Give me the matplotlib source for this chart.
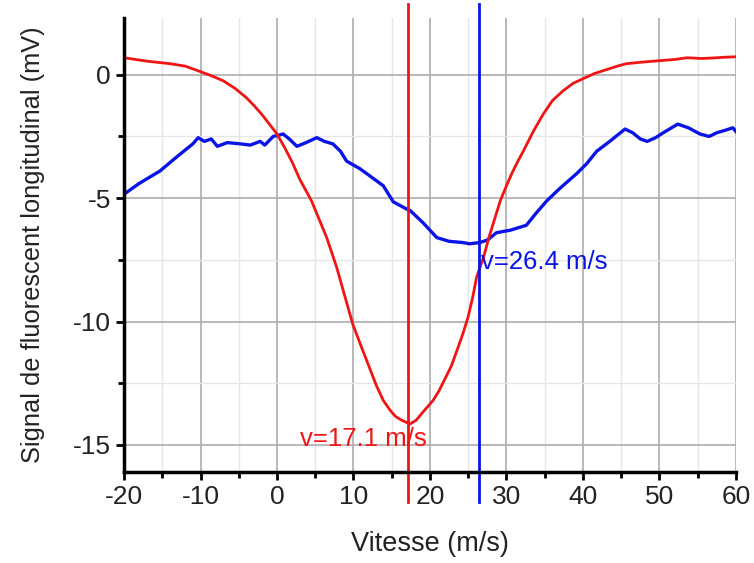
import matplotlib.pyplot as plt
from matplotlib.ticker import MultipleLocator

plt.rcParams['font.family'] = ['Liberation Sans', 'DejaVu Sans']
plt.rcParams['axes.unicode_minus'] = False

# Courbe rouge (signal longitudinal)
vitesse_rouge = [-20, -17, -14, -12, -10.3, -8.5, -7, -5.5, -4, -3, -2, -1, 0, 1, 2, 3,
                 4.5, 5.5, 6.5, 7.8, 8.8, 9.9, 11, 12, 13, 13.9, 14.8, 15.5, 16.3, 17,
                 17.4, 18.2, 19, 19.7, 20.4, 21.2, 22, 22.8, 23.5, 24.3, 25, 25.6,
                 26.1, 27, 27.7, 28.5, 29.2, 30, 30.7, 31.5, 32.2, 33.5, 34.8, 36,
                 37.4, 38.7, 40, 41.5, 43, 44.5, 45.7, 48, 50, 52, 53.6, 55.5, 57,
                 58.5, 60]
signal_rouge = [0.69, 0.55, 0.45, 0.35, 0.16, -0.05, -0.25, -0.55, -0.93, -1.25,
                -1.6, -2.0, -2.4, -2.95, -3.55, -4.25, -5.1, -5.85, -6.6, -7.8,
                -8.9, -10.1, -11.0, -11.8, -12.6, -13.2, -13.6, -13.85, -14.0,
                -14.1, -14.15, -14.0, -13.7, -13.45, -13.2, -12.8, -12.3, -11.8,
                -11.2, -10.5, -9.8, -9.0, -8.2, -7.4, -6.6, -5.8, -5.1, -4.5,
                -4.0, -3.5, -3.1, -2.3, -1.6, -1.05, -0.65, -0.35, -0.16, 0.05,
                0.2, 0.35, 0.45, 0.52, 0.57, 0.62, 0.69, 0.66, 0.68, 0.71, 0.73]

# Courbe bleue (signal de référence)
vitesse_bleue = [-20, -18, -15.3, -13, -11, -10.3, -9.5, -8.6, -7.8, -6.5, -4.8, -3.5,
                 -2.2, -1.6, -0.5, 0.8, 1.6, 2.6, 3.8, 5.2, 6.2, 7.3, 8.3, 9.1,
                 10.8, 11.7, 13.9, 15.2, 17, 17.4, 19.1, 20.9, 22.5, 24.3, 25.2,
                 26.5, 27.5, 28.7, 30.5, 32.6, 33.9, 35.3, 37, 39.2, 40.5, 41.8,
                 43.5, 45.5, 46.5, 47.5, 48.4, 49.5, 50.5, 52.4, 53.8, 55.3,
                 56.5, 57.5, 58.6, 59.6, 60]
signal_bleue = [-4.84, -4.4, -3.9, -3.3, -2.8, -2.55, -2.7, -2.6, -2.9, -2.75, -2.8,
                -2.85, -2.7, -2.85, -2.5, -2.4, -2.6, -2.9, -2.75, -2.55, -2.7,
                -2.8, -3.1, -3.5, -3.8, -4.0, -4.5, -5.15, -5.45, -5.5, -6.0,
                -6.6, -6.75, -6.8, -6.85, -6.8, -6.7, -6.4, -6.3, -6.1, -5.6,
                -5.1, -4.6, -4.0, -3.6, -3.1, -2.7, -2.2, -2.35, -2.6, -2.7,
                -2.55, -2.35, -2.0, -2.15, -2.4, -2.5, -2.35, -2.25, -2.15, -2.3]

v_rouge = 17.1
v_bleue = 26.4

fig = plt.figure(figsize=(7.54, 5.63), dpi=100)
ax = fig.add_axes([0.1645, 0.1616, 0.8115, 0.8064])

# grille majeure et mineure
ax.xaxis.set_major_locator(MultipleLocator(10))
ax.xaxis.set_minor_locator(MultipleLocator(5))
ax.yaxis.set_major_locator(MultipleLocator(5))
ax.yaxis.set_minor_locator(MultipleLocator(2.5))
ax.grid(which='major', color='#adadad', linewidth=1.2)
ax.grid(which='minor', color='#e6e6e6', linewidth=1.0)
ax.set_axisbelow(True)

ax.plot(vitesse_bleue, signal_bleue, color='#0a14e6', linewidth=2.4)
ax.plot(vitesse_rouge, signal_rouge, color='#f01414', linewidth=2.0)

# lignes verticales qui dépassent des axes
ax.axvline(v_rouge, ymin=-0.065, ymax=1.03, color='#f01414', linewidth=2.0, clip_on=False)
ax.axvline(v_bleue, ymin=-0.065, ymax=1.03, color='#0a14e6', linewidth=2.0, clip_on=False)

ax.text(3.0, -14.75, 'v=17.1 m/s', color='#f01414', fontsize=18.5, va='center')
ax.text(26.7, -7.6, 'v=26.4 m/s', color='#0a14e6', fontsize=18.5, va='center')

ax.set_xlim(-20, 60)
ax.set_ylim(-16.1, 2.3)

for s in ['top', 'right']:
    ax.spines[s].set_visible(False)
for s in ['left', 'bottom']:
    ax.spines[s].set_linewidth(2.5)

ax.tick_params(which='major', length=6, width=2, labelsize=19, direction='out',
               labelcolor='#222222')
ax.tick_params(which='minor', length=4, width=2, direction='out')

ax.set_xlabel('Vitesse (m/s)', fontsize=19.5, labelpad=16, color='#222222')
ax.set_ylabel('Signal de fluorescent longitudinal (mV)', fontsize=18.3, labelpad=20,
              color='#222222')

fig.savefig('out.png', dpi=100)
